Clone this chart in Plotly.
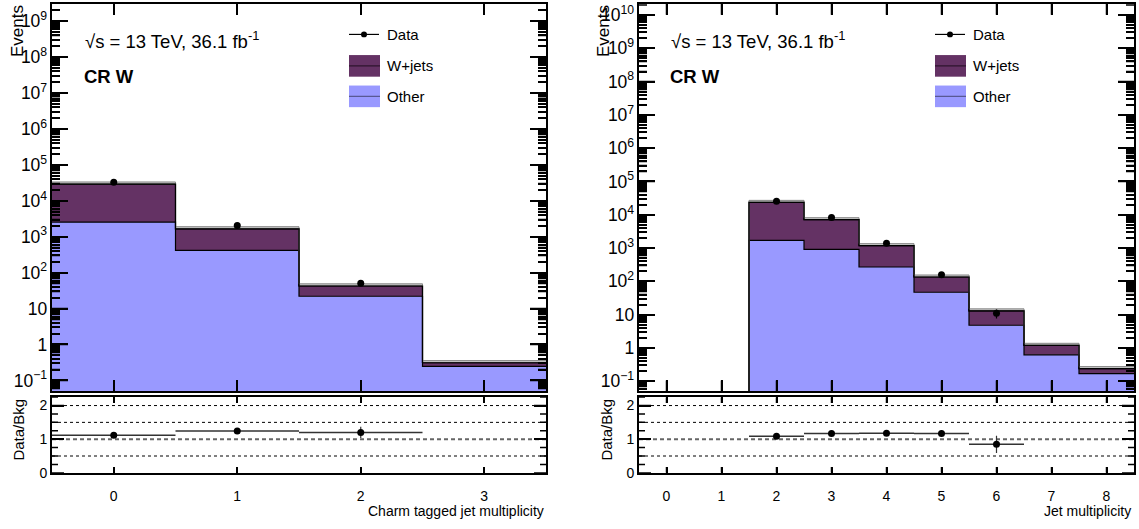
import math
import plotly.graph_objects as go

W, H = 1139, 529
FONT = "Liberation Sans, Arial, Helvetica, sans-serif"

# ---- Charm tagged jet multiplicity, CR W ----
charm_bins = [0, 1, 2, 3]
charm_other = [2550, 415, 22, 0.245]
charm_wjets = [26450, 1235, 20.5, 0.065]
charm_data = [32500, 2050, 51, None]
charm_data_err = [180, 45, 7.1, None]

# ---- Jet multiplicity, CR W ----
jet_bins = [0, 1, 2, 3, 4, 5, 6, 7, 8]
jet_other = [0, 0, 1700, 910, 270, 47, 4.8, 0.62, 0.17]
jet_wjets = [0, 0, 21800, 6190, 910, 88, 8.2, 0.58, 0.07]
jet_data = [None, None, 25500, 8300, 1390, 158, 11, None, None]
jet_data_err = [None, None, 160, 91, 37, 12.6, 3.3, None, None]

# relative background uncertainty shown as a band on top of the stack
bkg_unc = 0.15

WJETS_COLOR = "#643264"
OTHER_COLOR = "#9999ff"
FLOOR = 1e-4  # empty bins are drawn at a value below the visible range

# frame geometry (pixels)
LEFT_PX = (52, 546)
RIGHT_PX = (639, 1134)
MAIN_PX = (3, 397)      # top, bottom
RATIO_PX = (403, 480)
LEFT_RANGE = [-1.301, 9.477]
RIGHT_RANGE = [-1.30, 10.33]
RATIO_RANGE = [0, 2.25]


def px(x):
    return x / W


def py(y):
    return 1 - y / H


def step_xy(bins, vals):
    edges = [b - 0.5 for b in bins] + [bins[-1] + 0.5]
    ys = [v if (v is not None and v > 0) else FLOOR for v in vals]
    return edges, ys + [ys[-1]]


fig = go.Figure()


def add_panel(bins, other, wjets, data, data_err, xm, ym, xr, yr):
    total = [o + w for o, w in zip(other, wjets)]
    edges, base = step_xy(bins, [FLOOR] * len(bins))
    _, y_other = step_xy(bins, other)
    _, y_total = step_xy(bins, total)
    _, y_band = step_xy(bins, [t * (1 + bkg_unc) for t in total])
    common = dict(xaxis=xm, yaxis=ym, showlegend=False, hoverinfo="skip",
                  line_shape="hv", mode="lines")
    fig.add_trace(go.Scatter(x=edges, y=base, line=dict(width=0), **common))
    fig.add_trace(go.Scatter(x=edges, y=y_other, fill="tonexty",
                             fillcolor=OTHER_COLOR,
                             line=dict(color="black", width=1.2), **common))
    fig.add_trace(go.Scatter(x=edges, y=y_total, fill="tonexty",
                             fillcolor=WJETS_COLOR,
                             line=dict(color="black", width=1.2), **common))
    fig.add_trace(go.Scatter(x=edges, y=y_total, line=dict(width=0), **common))
    fig.add_trace(go.Scatter(x=edges, y=y_band, fill="tonexty",
                             fillcolor="rgba(150,150,150,0.55)",
                             line=dict(color="#888888", width=1), **common))
    fig.add_trace(go.Scatter(x=edges, y=y_total,
                             line=dict(color="black", width=1.2), **common))

    # data points
    fig.add_trace(go.Scatter(
        x=bins, y=data, mode="markers", xaxis=xm, yaxis=ym, showlegend=False,
        marker=dict(color="black", size=7),
        error_y=dict(type="data", array=[e if e is not None else 0 for e in data_err],
                     color="black", thickness=1.2, width=0)))

    # data / background ratio
    ratio = [d / t if d is not None else None for d, t in zip(data, total)]
    ratio_err = [e / t if e is not None else 0 for e, t in zip(data_err, total)]
    fig.add_trace(go.Scatter(
        x=bins, y=ratio, mode="markers", xaxis=xr, yaxis=yr, showlegend=False,
        marker=dict(color="black", size=7),
        error_x=dict(type="constant", value=0.5, color="#333333",
                     thickness=1.5, width=0),
        error_y=dict(type="data", array=ratio_err, color="#333333",
                     thickness=1.2, width=0)))


add_panel(charm_bins, charm_other, charm_wjets, charm_data, charm_data_err,
          "x", "y", "x2", "y2")
add_panel(jet_bins, jet_other, jet_wjets, jet_data, jet_data_err,
          "x3", "y3", "x4", "y4")


# ---- tick marks drawn inside the frames (both sides), ROOT style ----
def tick_trace(xa, ya, xs, ys):
    fig.add_trace(go.Scatter(x=xs, y=ys, xaxis=xa, yaxis=ya, mode="lines",
                             line=dict(color="black", width=1.5),
                             cliponaxis=False,
                             showlegend=False, hoverinfo="skip"))


def y_ticks(xa, ya, xlo, xhi, xpx, vals_len):
    xs, ys = [], []
    per_px = (xhi - xlo) / (xpx[1] - xpx[0])
    for v, length in vals_len:
        d = length * per_px
        xs += [xlo, xlo + d, None, xhi - d, xhi, None]
        ys += [v, v, None, v, v, None]
    tick_trace(xa, ya, xs, ys)


def x_ticks(xa, ya, xvals, ylo, yhi, ypx, length, log):
    xs, ys = [], []
    frac = length / (ypx[1] - ypx[0])
    for v in xvals:
        if log:
            b0, b1 = 10 ** ylo, 10 ** (ylo + frac * (yhi - ylo))
            t0, t1 = 10 ** (yhi - frac * (yhi - ylo)), 10 ** yhi
        else:
            b0, b1 = ylo, ylo + frac * (yhi - ylo)
            t0, t1 = yhi - frac * (yhi - ylo), yhi
        xs += [v, v, None, v, v, None]
        ys += [b0, b1, None, t0, t1, None]
    tick_trace(xa, ya, xs, ys)


def log_tick_list(lo, hi):
    out = []
    for n in range(math.floor(lo) - 1, math.ceil(hi) + 1):
        for k in range(1, 10):
            v = k * 10.0 ** n
            if 10 ** lo < v < 10 ** hi:
                out.append((v, 16 if k == 1 else 8))
    return out


ratio_list = [(0.25 * i, 12 if i % 4 == 0 else 6) for i in range(10)]

for bins, xm, ym, xr, yr, xpx, rng in (
        (charm_bins, "x", "y", "x2", "y2", LEFT_PX, LEFT_RANGE),
        (jet_bins, "x3", "y3", "x4", "y4", RIGHT_PX, RIGHT_RANGE)):
    xlo, xhi = bins[0] - 0.5, bins[-1] + 0.5
    y_ticks(xm, ym, xlo, xhi, xpx, log_tick_list(*rng))
    x_ticks(xm, ym, bins, rng[0], rng[1], MAIN_PX, 11, True)
    y_ticks(xr, yr, xlo, xhi, xpx, ratio_list)
    x_ticks(xr, yr, bins, RATIO_RANGE[0], RATIO_RANGE[1], RATIO_PX, 6, False)

tickfont = dict(family=FONT, size=14, color="black")
frame = dict(showline=True, linecolor="black", linewidth=2, mirror="ticks",
             ticks="inside", tickcolor="black", tickwidth=1.5,
             showgrid=False, zeroline=False, tickfont=tickfont)


def main_x(dom, nbins):
    return dict(domain=dom, range=[-0.5, nbins - 0.5], tickmode="linear",
                tick0=0, dtick=1, ticklen=11, showticklabels=False, **frame)


def ratio_x(dom, nbins):
    return dict(domain=dom, range=[-0.5, nbins - 0.5], tickmode="linear",
                tick0=0, dtick=1, ticklen=6, showticklabels=True,
                ticklabelstandoff=9, **frame)


MAIN_DOM = [py(MAIN_PX[1]), py(MAIN_PX[0])]
RATIO_DOM = [py(RATIO_PX[1]), py(RATIO_PX[0])]


def main_y(lo, hi):
    return dict(domain=MAIN_DOM, type="log", range=[lo, hi],
                tickmode="linear", tick0=0, dtick=1, exponentformat="power",
                ticklen=16,
                minor=dict(ticks="inside", ticklen=8, tickcolor="black"),
                **frame)


def ratio_y():
    return dict(domain=RATIO_DOM, range=RATIO_RANGE,
                tickmode="linear", tick0=0, dtick=1, ticklen=12, **frame)


left_dom = [px(LEFT_PX[0]), px(LEFT_PX[1])]
right_dom = [px(RIGHT_PX[0]), px(RIGHT_PX[1])]

fig.update_layout(
    width=W, height=H, margin=dict(l=0, r=0, t=0, b=0),
    paper_bgcolor="white", plot_bgcolor="white",
    xaxis=dict(anchor="y", **main_x(left_dom, 4)),
    yaxis=dict(anchor="x", **main_y(*LEFT_RANGE)),
    xaxis2=dict(anchor="y2", **ratio_x(left_dom, 4)),
    yaxis2=dict(anchor="x2", **ratio_y()),
    xaxis3=dict(anchor="y3", **main_x(right_dom, 9)),
    yaxis3=dict(anchor="x3", **main_y(*RIGHT_RANGE)),
    xaxis4=dict(anchor="y4", **ratio_x(right_dom, 9)),
    yaxis4=dict(anchor="x4", **ratio_y()),
)

shapes = []

# reference lines in the ratio panels
for xr, yr in (("x2", "y2"), ("x4", "y4")):
    for val in (0.5, 1.5, 2.0):
        shapes.append(dict(type="line", xref=f"{xr} domain", yref=yr,
                           x0=0, x1=1, y0=val, y1=val, layer="below",
                           line=dict(color="black", width=1, dash="dot")))
    shapes.append(dict(type="line", xref=f"{xr} domain", yref=yr,
                       x0=0, x1=1, y0=1, y1=1, layer="below",
                       line=dict(color="#666666", width=2, dash="4px,3px")))

annotations = []


def text(x, y, s, size, xanchor="left", yanchor="middle", angle=0, bold=False):
    if bold:
        s = f"<b>{s}</b>"
    annotations.append(dict(x=px(x), y=py(y), xref="paper", yref="paper",
                            text=s, showarrow=False, xanchor=xanchor,
                            yanchor=yanchor, textangle=angle,
                            font=dict(family=FONT, size=size, color="black")))


def legend(x0, text_x):
    # Data entry: line with marker
    shapes.append(dict(type="line", xref="paper", yref="paper",
                       x0=px(x0), x1=px(x0 + 30), y0=py(34), y1=py(34),
                       line=dict(color="black", width=1.2)))
    shapes.append(dict(type="circle", xref="paper", yref="paper",
                       x0=px(x0 + 12), x1=px(x0 + 18), y0=py(37), y1=py(31),
                       fillcolor="black", line=dict(color="black", width=0)))
    text(text_x, 34, "Data", 15)
    # stacked histogram entries
    for yc, color, mid, label in ((66, WJETS_COLOR, "#2b122b", "W+jets"),
                                  (97, OTHER_COLOR, "#55558f", "Other")):
        shapes.append(dict(type="rect", xref="paper", yref="paper",
                           x0=px(x0), x1=px(x0 + 31), y0=py(yc + 11), y1=py(yc - 11),
                           fillcolor=color, line=dict(width=0)))
        shapes.append(dict(type="line", xref="paper", yref="paper",
                           x0=px(x0), x1=px(x0 + 31), y0=py(yc), y1=py(yc),
                           line=dict(color=mid, width=1.2)))
        text(text_x, yc, label, 15)


legend(349, 385)
legend(935, 971)

for xl, xe, xd, xt, title in ((83, 18, 19, 546, "Charm tagged jet multiplicity"),
                              (669, 604, 607, 1133, "Jet multiplicity")):
    text(xl, 40, "√s = 13 TeV, 36.1 fb<sup>-1</sup>", 18.5)
    text(xl - 1, 77, "CR W", 18.5, bold=True)
    text(xe, 2, "Events", 17, xanchor="center", yanchor="top", angle=-90)
    text(xd, 436, "Data/Bkg", 15, xanchor="center", angle=-90)
    text(xt, 519, title, 14, xanchor="right")

fig.update_layout(shapes=shapes, annotations=annotations)

fig.write_html("out.html")
